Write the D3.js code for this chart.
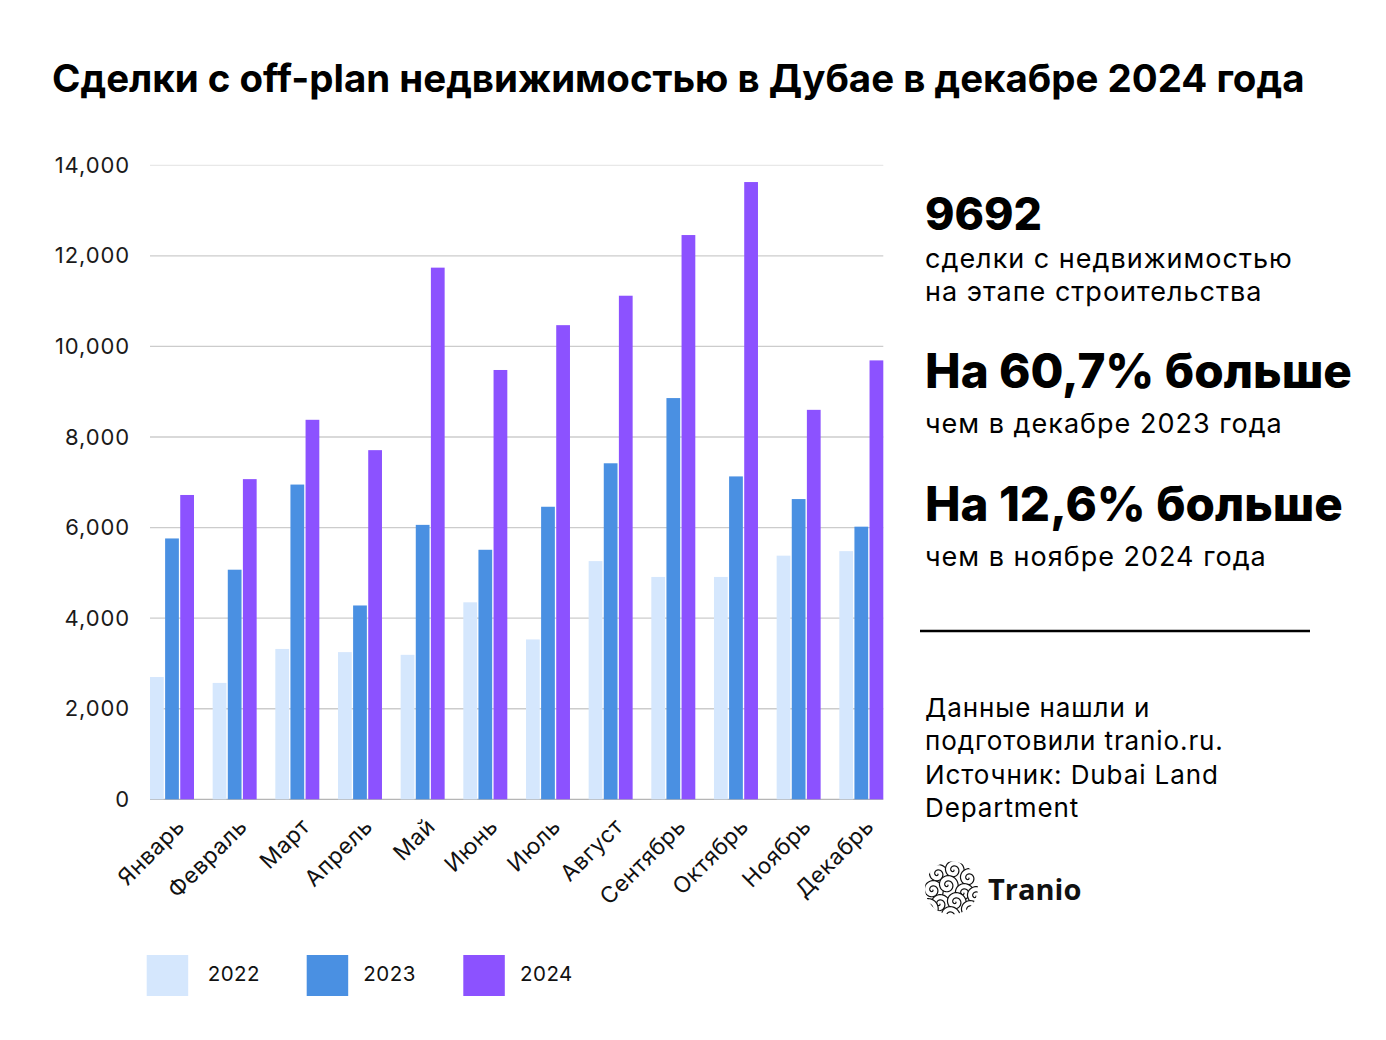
<!DOCTYPE html>
<html><head><meta charset="utf-8">
<script src="https://cdn.jsdelivr.net/npm/d3@7"></script>
<style>
body{margin:0;background:#fff;}
svg{display:block;font-family:Inter,"Noto Sans",sans-serif;}
</style></head>
<body><svg id="c" width="1386" height="1040"></svg>
<script>
const months = ["Январь","Февраль","Март","Апрель","Май","Июнь","Июль","Август","Сентябрь","Октябрь","Ноябрь","Декабрь"];
const years = ["2022","2023","2024"];
const v2022 = [2700,2570,3320,3250,3190,4350,3530,5260,4910,4910,5380,5480];
const v2023 = [5760,5070,6950,4280,6060,5510,6460,7420,8860,7130,6630,6020];
const v2024 = [6720,7070,8380,7710,11740,9480,10470,11120,12460,13630,8600,9692];
const yTicks = [0,2000,4000,6000,8000,10000,12000,14000];
const colors = ["#d5e7fd","#4a90e2","#8c52ff"];
const series = [v2022, v2023, v2024];

const svg = d3.select("#c");
svg.append("rect").attr("width",1386).attr("height",1040).attr("fill","#fff");

function fit(sel, target){
  const n = sel.node(); const w = n.getComputedTextLength();
  const fs = parseFloat(sel.attr("font-size"));
  sel.attr("font-size", fs*target/w);
  return sel;
}

// title
fit(svg.append("text").attr("x",52).attr("y",92).attr("font-size",36).attr("font-weight",700).attr("fill","#000")
  .text("Сделки с off-plan недвижимостью в Дубае в декабре 2024 года"), 1253);

const x0 = d3.scaleBand().domain(months).range([150,883.3]).paddingInner(0.298).paddingOuter(0);
const x1 = d3.scaleBand().domain(years).range([0,x0.bandwidth()]).paddingInner(0.09);
const y = d3.scaleLinear().domain([0,14000]).range([799.3,165.3]);

// grid
svg.append("g").selectAll("line").data(yTicks).join("line")
  .attr("x1",150).attr("x2",883.3).attr("y1",d=>y(d)).attr("y2",d=>y(d))
  .attr("stroke",d=>d===14000?"#e8e8e8":(d===0?"#b5b5b5":"#cccccc")).attr("stroke-width",1.3);

// y labels
const yAxis = d3.axisLeft(y).tickValues(yTicks).tickFormat(d3.format(",")).tickSize(0).tickPadding(0);
const ga = svg.append("g").attr("transform","translate(130,0)").call(yAxis);
ga.select(".domain").remove();
ga.selectAll("text").attr("font-size",22).attr("letter-spacing","0.9px").attr("fill","#1a1a1a")
  .attr("font-family","Inter,'Noto Sans',sans-serif");

// bars
const g = svg.append("g");
months.forEach((m,i)=>{
  years.forEach((yr,j)=>{
    g.append("rect").attr("x",x0(m)+x1(yr)).attr("width",x1.bandwidth())
      .attr("y",y(series[j][i])).attr("height",y(0)-y(series[j][i])).attr("fill",colors[j]);
  });
});

// x labels
const xa = svg.append("g").attr("transform","translate(0,806)")
  .call(d3.axisBottom(x0).tickSize(0).tickPadding(0));
xa.select(".domain").remove();
xa.selectAll("text").attr("font-size",22.5).attr("letter-spacing","0.6px").attr("fill","#111")
  .attr("font-family","Inter,'Noto Sans',sans-serif")
  .attr("text-anchor","end").attr("dy",0)
  .attr("transform","translate(14,22) rotate(-45)");

// legend
const lx = [146.7,306.7,463.3];
const ltx = [207.7,363.3,520];
years.forEach((yr,j)=>{
  svg.append("rect").attr("x",lx[j]).attr("y",955).attr("width",41.5).attr("height",41).attr("fill",colors[j]);
  svg.append("text").attr("x",ltx[j]).attr("y",981).attr("font-size",20.5).attr("letter-spacing","0.5px").attr("fill","#111").text(yr);
});

// right panel
const R = 925;
function txt(t,yy,fs,w,target,ls){
  const s = svg.append("text").attr("x",R).attr("y",yy).attr("font-size",fs).attr("font-weight",w).attr("fill","#000").text(t);
  if(ls) s.attr("letter-spacing",ls+"px");
  return target ? fit(s,target) : s;
}
txt("9692",230,40,800,117);
txt("сделки с недвижимостью",268,27,400,null,1);
txt("на этапе строительства",301,27,400,null,1);
txt("На 60,7% больше",388,44,800,427);
txt("чем в декабре 2023 года",433,27,400,null,1);
txt("На 12,6% больше",521,44,800,418);
txt("чем в ноябре 2024 года",566,27,400,null,1);
svg.append("line").attr("x1",920).attr("x2",1310).attr("y1",631).attr("y2",631).attr("stroke","#000").attr("stroke-width",2.5);
txt("Данные нашли и",717,26,400,null,0.9);
txt("подготовили tranio.ru.",750,26,400,null,0.9);
txt("Источник: Dubai Land",784,26,400,null,0.9);
txt("Department",817,26,400,null,0.9);

// logo
const cx=951.5, cy=888, r=26.5;
const defs = svg.append("defs");
defs.append("clipPath").attr("id","lc").append("circle").attr("cx",cx).attr("cy",cy).attr("r",r);
const lg = svg.append("g").attr("clip-path","url(#lc)");
const centers = [[-14,-14],[2,-18],[17,-10],[-19,2],[-4,-3],[12,5],[24,8],[-12,16],[4,14],[18,22],[-2,28],[-24,20]];
centers.forEach(([dx,dy])=>{
  const pts=[]; for(let t=0;t<=4.2*Math.PI;t+=0.15){const rr=0.85*t; pts.push([cx+dx+rr*Math.cos(t),cy+dy+rr*Math.sin(t)]);}
  lg.append("path").attr("d",d3.line()(pts)).attr("fill","#fff").attr("stroke","#111").attr("stroke-width",1.2);
});
svg.append("text").attr("x",988).attr("y",900).attr("font-size",29).attr("font-weight",700).attr("fill","#111")
  .attr("font-family","'Open Sans',sans-serif").text("Tranio");
</script></body></html>
